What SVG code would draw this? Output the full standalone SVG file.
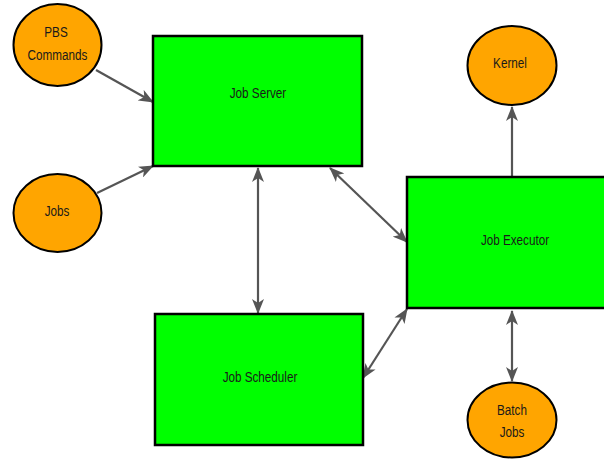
<svg xmlns="http://www.w3.org/2000/svg" width="604" height="459" viewBox="0 0 604 459">
<style>
.box{fill:#00ff00;stroke:#000;stroke-width:2.5}
.ell{fill:#ffa500;stroke:#000;stroke-width:2}
.lbl{font-family:"Liberation Sans",Arial,sans-serif;font-size:15px;fill:#1a1a1a;text-anchor:middle}
.con{stroke:#555;stroke-width:2.2;fill:none}
</style>
<defs>
<marker id="ah" viewBox="0 0 15 12" refX="14" refY="6" markerWidth="15" markerHeight="12" markerUnits="userSpaceOnUse" orient="auto-start-reverse">
<path d="M0,0 L15,6 L0,12 L4,6 z" fill="#555"/>
</marker>
</defs>
<rect width="604" height="459" fill="#fff"/>
<g id="connectors">
<line class="con" x1="96" y1="70" x2="153" y2="102" marker-end="url(#ah)"/>
<line class="con" x1="97" y1="193" x2="153" y2="166" marker-end="url(#ah)"/>
<line class="con" x1="258" y1="168" x2="258" y2="313" marker-start="url(#ah)" marker-end="url(#ah)"/>
<line class="con" x1="330" y1="168" x2="407" y2="242" marker-start="url(#ah)" marker-end="url(#ah)"/>
<line class="con" x1="363" y1="378" x2="407" y2="309" marker-start="url(#ah)" marker-end="url(#ah)"/>
<line class="con" x1="512" y1="311" x2="512" y2="381" marker-start="url(#ah)" marker-end="url(#ah)"/>
<line class="con" x1="512" y1="177" x2="512" y2="107" marker-end="url(#ah)"/>
</g>
<g id="pbs">
<ellipse class="ell" cx="57.5" cy="45" rx="44" ry="41"/>
<text class="lbl" transform="translate(56,37) scale(0.78,1)">PBS</text>
<text class="lbl" transform="translate(57.5,60) scale(0.78,1)">Commands</text>
</g>
<g id="jobs">
<ellipse class="ell" cx="57.5" cy="213" rx="44" ry="39"/>
<text class="lbl" transform="translate(57,216) scale(0.78,1)">Jobs</text>
</g>
<g id="server">
<rect class="box" x="153" y="36" width="209" height="130"/>
<text class="lbl" transform="translate(258,98) scale(0.78,1)">Job Server</text>
</g>
<g id="scheduler">
<rect class="box" x="155" y="314" width="208" height="131"/>
<text class="lbl" transform="translate(260,382) scale(0.78,1)">Job Scheduler</text>
</g>
<g id="executor">
<rect class="box" x="407" y="177" width="216" height="131"/>
<text class="lbl" transform="translate(515,245) scale(0.78,1)">Job Executor</text>
</g>
<g id="kernel">
<ellipse class="ell" cx="512" cy="65.5" rx="44.5" ry="39.5"/>
<text class="lbl" transform="translate(510,68) scale(0.78,1)">Kernel</text>
</g>
<g id="batch">
<ellipse class="ell" cx="512" cy="420" rx="44.5" ry="37.5"/>
<text class="lbl" transform="translate(512,415) scale(0.78,1)">Batch</text>
<text class="lbl" transform="translate(512,437) scale(0.78,1)">Jobs</text>
</g>
</svg>
